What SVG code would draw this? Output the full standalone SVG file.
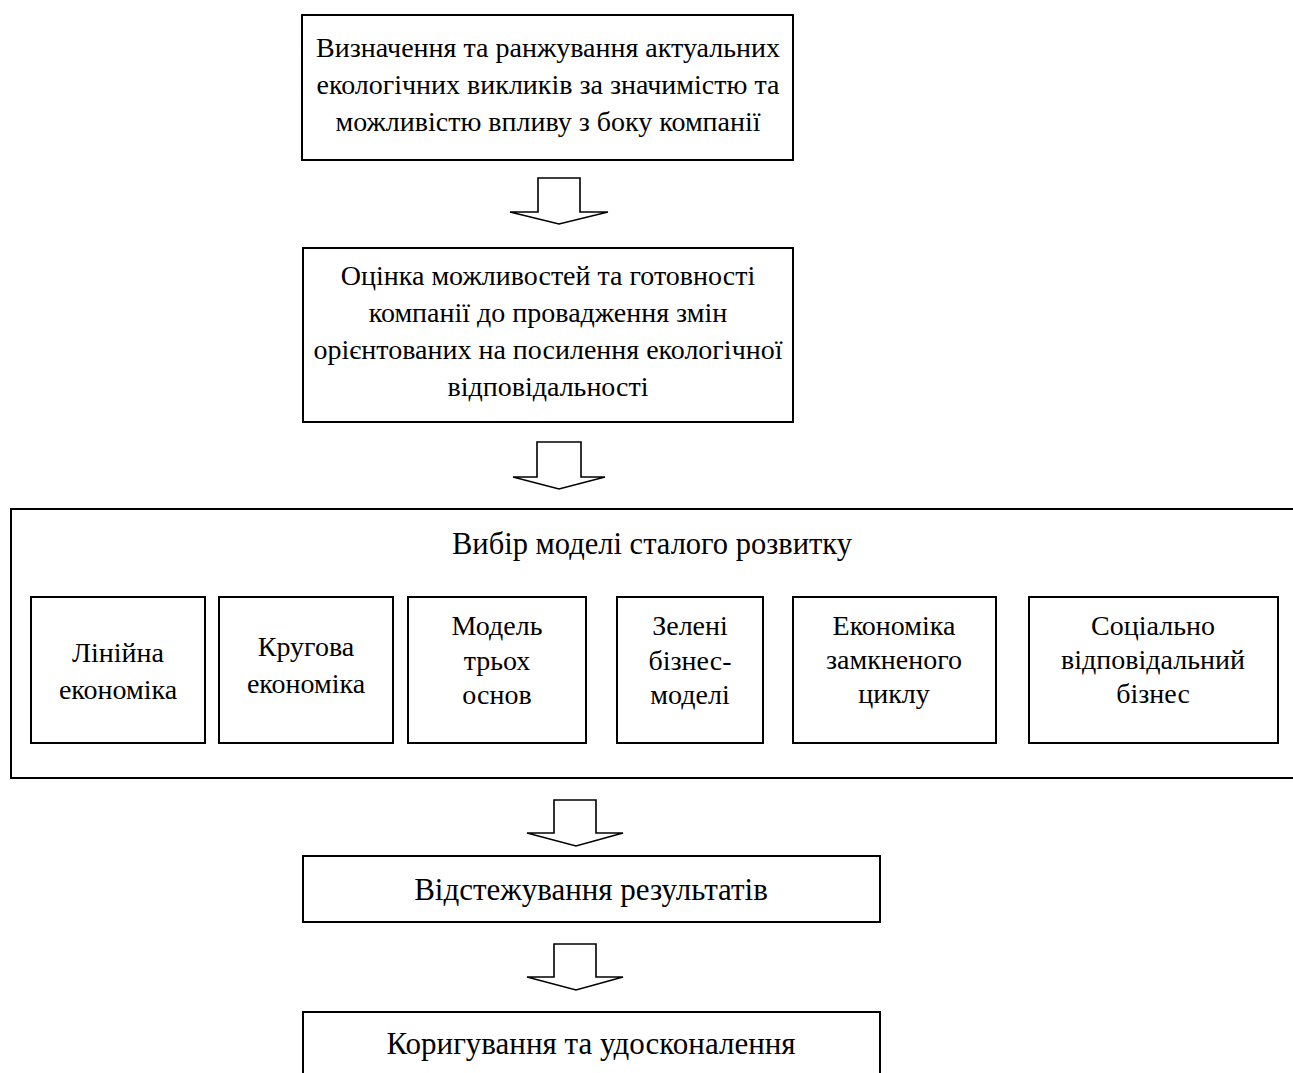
<svg xmlns="http://www.w3.org/2000/svg" width="1293" height="1073" viewBox="0 0 1293 1073">
  <style>
    .box { fill: #ffffff; stroke: #000000; stroke-width: 2; }
    .arrow { fill: #ffffff; stroke: #000000; stroke-width: 1.6; stroke-linejoin: miter; }
    text { font-family: "Liberation Serif", "Times New Roman", serif; font-size: 28px; fill: #000000; text-anchor: middle; }
    .big { font-size: 31px; }
    .title { font-size: 30.5px; }
  </style>
  <rect width="1293" height="1073" fill="#ffffff"/>

  <!-- Step 1 -->
  <g id="step-identify">
    <rect class="box" x="302" y="15" width="491" height="145"/>
    <text x="548" y="57">Визначення та ранжування актуальних</text>
    <text x="548" y="94">екологічних викликів за значимістю та</text>
    <text x="548" y="131">можливістю впливу з боку компанії</text>
  </g>

  <!-- Step 2 -->
  <g id="step-assess">
    <rect class="box" x="303" y="248" width="490" height="174"/>
    <text x="548" y="285">Оцінка можливостей та готовності</text>
    <text x="548" y="322">компанії до провадження змін</text>
    <text x="548" y="359">орієнтованих на посилення екологічної</text>
    <text x="548" y="396">відповідальності</text>
  </g>

  <!-- Step 3: model choice with options -->
  <g id="step-model">
    <rect class="box" x="11" y="509" width="1300" height="269"/>
    <text class="title" x="652" y="554">Вибір моделі сталого розвитку</text>
  </g>
  <g id="model-linear">
    <rect class="box" x="31" y="597" width="174" height="146"/>
    <text x="118" y="662">Лінійна</text>
    <text x="118" y="699">економіка</text>
  </g>
  <g id="model-circular">
    <rect class="box" x="219" y="597" width="174" height="146"/>
    <text x="306" y="656">Кругова</text>
    <text x="306" y="693">економіка</text>
  </g>
  <g id="model-triple">
    <rect class="box" x="408" y="597" width="178" height="146"/>
    <text x="497" y="635">Модель</text>
    <text x="497" y="670">трьох</text>
    <text x="497" y="704">основ</text>
  </g>
  <g id="model-green">
    <rect class="box" x="617" y="597" width="146" height="146"/>
    <text x="690" y="635">Зелені</text>
    <text x="690" y="670">бізнес-</text>
    <text x="690" y="704">моделі</text>
  </g>
  <g id="model-closed-loop">
    <rect class="box" x="793" y="597" width="203" height="146"/>
    <text x="894" y="635">Економіка</text>
    <text x="894" y="669">замкненого</text>
    <text x="894" y="703">циклу</text>
  </g>
  <g id="model-social">
    <rect class="box" x="1029" y="597" width="249" height="146"/>
    <text x="1153" y="635">Соціально</text>
    <text x="1153" y="669">відповідальний</text>
    <text x="1153" y="703">бізнес</text>
  </g>

  <!-- Step 4 -->
  <g id="step-monitor">
    <rect class="box" x="303" y="856" width="577" height="66"/>
    <text class="big" x="591" y="900">Відстежування результатів</text>
  </g>

  <!-- Step 5 -->
  <g id="step-adjust">
    <rect class="box" x="303" y="1012" width="577" height="80"/>
    <text class="big" x="591" y="1054">Коригування та удосконалення</text>
  </g>

  <!-- Block arrows between steps -->
  <g id="connectors">
    <polygon class="arrow" points="538,178 580,178 580,212 608,212 559,224 510,212 538,212"/>
    <polygon class="arrow" points="537,442 581,442 581,477 605,477 559,489 513,477 537,477"/>
    <polygon class="arrow" points="554,800 596,800 596,833 623,833 576,846 527,833 554,833"/>
    <polygon class="arrow" points="554,944 596,944 596,977 623,977 576,990 527,977 554,977"/>
  </g>
</svg>
